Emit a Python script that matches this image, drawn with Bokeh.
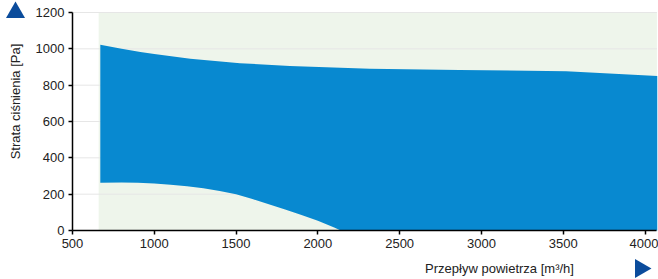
from bokeh.plotting import figure
from bokeh.models import Range1d, FixedTicker, Label
from bokeh.embed import file_html
from bokeh.resources import INLINE

# Data
upper_q = [670, 800, 915, 1000, 1220, 1524, 1829, 2317, 2866, 3518, 4075]
upper_p = [1022, 1000, 982, 971, 945, 921, 905, 890, 883, 877, 851]
lower_q = [670, 800, 900, 1000, 1100, 1200, 1300, 1400, 1500, 1600, 1700, 1800, 1900, 2000, 2100, 2140]
lower_p = [263, 264, 263, 259, 252, 244, 232, 217, 199, 173, 145, 115, 85, 53, 17, 0]
x_ticks = [500, 1000, 1500, 2000, 2500, 3000, 3500, 4000]
y_ticks = [0, 200, 400, 600, 800, 1000, 1200]
area_start = 660
x_lo, x_hi = 500, 4073
y_lo, y_hi = 0, 1200

FONT = "Liberation Sans"
BLUE = "#0889d0"
GREEN = "#eef5eb"
DARK = "#0b4c9c"
TXT = "#222222"

W, H = 658, 279
left_px, top_px, bottom_px = 72, 12, 49
ux = (x_ticks[-1] - x_ticks[0]) / 572.5          # data units per pixel (x)
uy = (y_hi - y_lo) / (H - top_px - bottom_px)     # data units per pixel (y)

p = figure(width=W, height=H, output_backend="svg", toolbar_location=None,
           x_range=Range1d(x_lo - left_px * ux, x_lo + (W - left_px) * ux),
           y_range=Range1d(y_lo - bottom_px * uy, y_hi + top_px * uy),
           min_border=0)
p.outline_line_color = None
p.grid.visible = False

# green operating background
p.quad(left=[area_start], right=[x_hi], bottom=[y_lo], top=[y_hi],
       fill_color=GREEN, line_color=None)

# grid lines
gy = y_ticks[1:]
p.segment(x0=[x_lo] * len(gy), x1=[x_hi] * len(gy), y0=gy, y1=gy,
          line_color="#e6e6e6", line_width=1)

# blue area polygon
xs = upper_q + [upper_q[-1]] + lower_q[::-1]
ys = upper_p + [0] + lower_p[::-1]
p.patch(xs, ys, fill_color=BLUE, line_color=None)

p.xaxis.fixed_location = y_lo
p.xaxis.bounds = (x_lo, x_hi)
p.yaxis.fixed_location = x_lo
p.yaxis.bounds = (y_lo, y_hi)
for ax in (p.xaxis, p.yaxis):
    ax.axis_line_color = "black"
    ax.axis_line_width = 1.5
    ax.major_tick_line_color = "black"
    ax.major_tick_line_width = 1.5
    ax.major_tick_in = 0
    ax.major_tick_out = 4
    ax.minor_tick_line_color = None
    ax.major_label_text_font = FONT
    ax.major_label_text_font_size = "13px"
    ax.major_label_text_color = TXT
    ax.major_label_standoff = 4
p.xaxis.ticker = FixedTicker(ticks=x_ticks)
p.yaxis.ticker = FixedTicker(ticks=y_ticks)

# axis titles (placed in data space below / left of the axes)
p.add_layout(Label(x=x_lo + (499 - left_px) * ux, y=y_lo - 38 * uy,
                   text="Przepływ powietrza [m³/h]", text_font=FONT,
                   text_font_size="13px", text_color=TXT,
                   text_align="center", text_baseline="middle"))
p.add_layout(Label(x=x_lo - 57 * ux, y=y_lo + 129 * uy,
                   text="Strata ciśnienia [Pa]", text_font=FONT,
                   text_font_size="13px", text_color=TXT, angle=1.5708,
                   text_align="center", text_baseline="middle"))

# direction arrows
p.scatter(x=[x_lo - 57 * ux], y=[y_hi], marker="triangle", size=19,
          fill_color=DARK, line_color=None)
p.scatter(x=[x_lo + (640 - left_px) * ux], y=[y_lo - 38 * uy], marker="triangle",
          angle=-1.5708, size=19, fill_color=DARK, line_color=None)

open("out.html", "w").write(file_html(p, INLINE))
